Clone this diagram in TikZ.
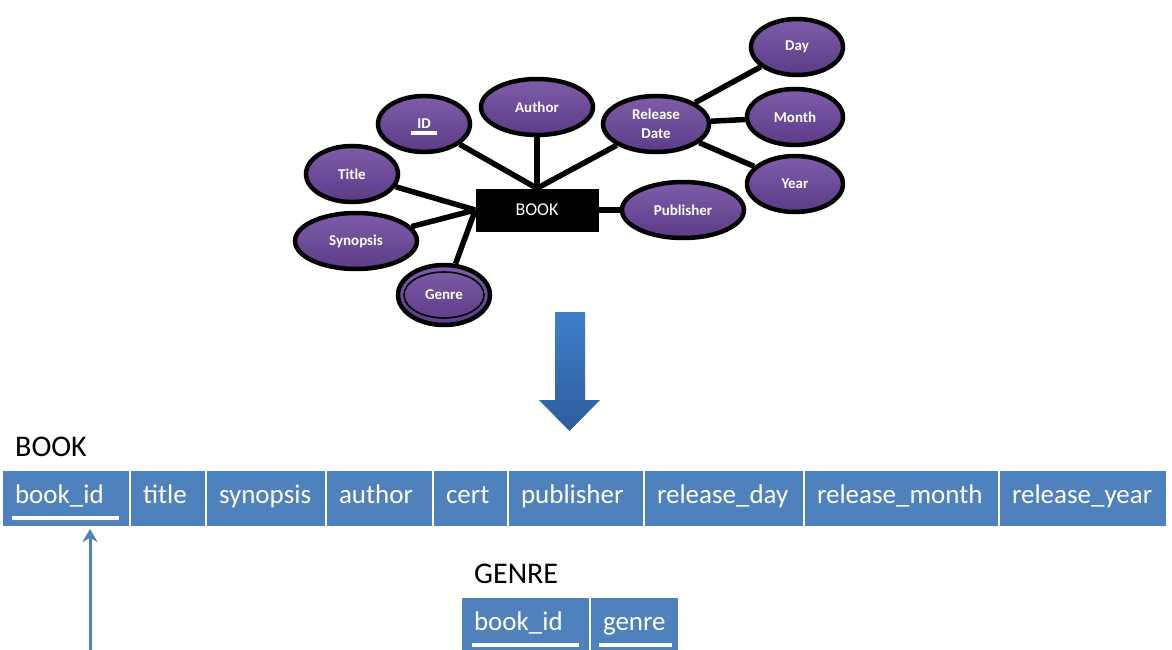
\documentclass[tikz,border=0pt]{standalone}
\usepackage{fontspec}
\setmainfont{Carlito}
\usetikzlibrary{shapes.geometric,shadows,arrows.meta,positioning}

\definecolor{attrtop}{HTML}{7E5CA9}
\definecolor{attrbot}{HTML}{5B3C87}
\definecolor{cellblue}{HTML}{4F81BD}
\definecolor{arrowtop}{HTML}{3F7FCC}
\definecolor{arrowbot}{HTML}{2E5D99}

\tikzset{
  attr/.style={ellipse, draw=black, line width=4.5pt, top color=attrtop, bottom color=attrbot,
    text=white, font=\bfseries\fontsize{15}{19}\selectfont, inner sep=0pt, align=center,
    drop shadow={shadow xshift=1pt, shadow yshift=-2pt, opacity=.3}},
  entity/.style={rectangle, fill=black, text=white, font=\fontsize{18}{20}\selectfont,
    minimum width=123pt, minimum height=43pt, inner sep=0pt},
  link/.style={line width=5.5pt, black},
  cell/.style={rectangle, fill=cellblue, text=white, font=\fontsize{27}{30}\selectfont,
    align=left, inner xsep=12pt, inner ysep=13pt, outer sep=0pt, text height=19pt, text depth=10pt},
  keybar/.style={fill=white, drop shadow={shadow xshift=.5pt, shadow yshift=-1pt, opacity=.4}},
  tablename/.style={anchor=base west, inner sep=0pt, font=\fontsize{30}{34}\selectfont},
  fkarrow/.style={-{Stealth[length=13pt,width=15pt]}, line width=3pt, draw=cellblue}
}

\begin{document}
\begin{tikzpicture}[x=1pt, y=-1pt]
    \useasboundingbox (0,0) rectangle (1172,650);

    % ER diagram
    \node[entity] (book) at (537,210) {BOOK};
    \node[attr, minimum width=92pt, minimum height=56pt] (id) at (424,124) {ID};
    \node[attr, minimum width=112pt, minimum height=56pt] (author) at (537,107) {Author};
    \node[attr, minimum width=106pt, minimum height=56pt] (reldate) at (656,124) {Release\\Date};
    \node[attr, minimum width=92pt, minimum height=56pt] (day) at (797,47) {Day};
    \node[attr, minimum width=96pt, minimum height=56pt] (month) at (795,117) {Month};
    \node[attr, minimum width=96pt, minimum height=56pt] (year) at (795,184) {Year};
    \node[attr, minimum width=122pt, minimum height=56pt] (publisher) at (683,210) {Publisher};
    \node[attr, minimum width=92pt, minimum height=56pt] (title) at (352,174) {Title};
    \node[attr, minimum width=122pt, minimum height=56pt] (synopsis) at (356,241) {Synopsis};
    \node[attr, minimum width=92pt, minimum height=60pt] (genre) at (444,295) {Genre};
    \draw[line width=1.6pt] (genre.center) ellipse [x radius=40pt, y radius=23pt];
    \fill[white] ([shift={(-13,7)}]id.center) rectangle ++(26,4);

    \draw[link] (book.north) -- (id);
    \draw[link] (book.north) -- (author);
    \draw[link] (book.north) -- (reldate);
    \draw[link] (book.west) -- (title);
    \draw[link] (book.west) -- (synopsis);
    \draw[link] (book.west) -- (genre);
    \draw[link] (book.east) -- (publisher.west);
    \draw[link] (reldate) -- (day);
    \draw[link] (reldate) -- (month);
    \draw[link] (reldate) -- (year);

    % mapping arrow
    \shade[top color=arrowtop, bottom color=arrowbot]
        (555,312) -- (585,312) -- (585,400) -- (600,400) -- (569.5,431)
        -- (539,400) -- (555,400) -- cycle;

    % BOOK table
    \node[tablename] (booklabel) at (15,456) {BOOK};
    \node[cell, text width=102pt, anchor=north west] (bookid) at (3,471) {book\_id};
    \node[cell, text width=50pt, right=2pt of bookid] (ctitle) {title};
    \node[cell, text width=94pt, right=2pt of ctitle] (csynopsis) {synopsis};
    \node[cell, text width=81pt, right=2pt of csynopsis] (cauthor) {author};
    \node[cell, text width=49pt, right=2pt of cauthor] (ccert) {cert};
    \node[cell, text width=110pt, right=2pt of ccert] (cpublisher) {publisher};
    \node[cell, text width=134pt, right=2pt of cpublisher] (cday) {release\_day};
    \node[cell, text width=169pt, right=2pt of cday] (cmonth) {release\_month};
    \node[cell, text width=142pt, right=2pt of cmonth] (cyear) {release\_year};
    \fill[keybar] ([shift={(9,45)}]bookid.north west) rectangle ++(107,4);

    % GENRE table
    \node[tablename] (genrelabel) at (474,583) {GENRE};
    \node[cell, text width=103pt, anchor=north west] (gbookid) at (462,598) {book\_id};
    \node[cell, text width=63pt, right=2pt of gbookid] (ggenre) {genre};
    \fill[keybar] ([shift={(10,45)}]gbookid.north west) rectangle ++(107,4);
    \fill[keybar] ([shift={(8,45)}]ggenre.north west) rectangle ++(73,4);

    % foreign key
    \coordinate (fkfoot) at (90,650);
    \draw[fkarrow, shorten >=3pt] (fkfoot) -- (fkfoot |- bookid.south);
\end{tikzpicture}
\end{document}
